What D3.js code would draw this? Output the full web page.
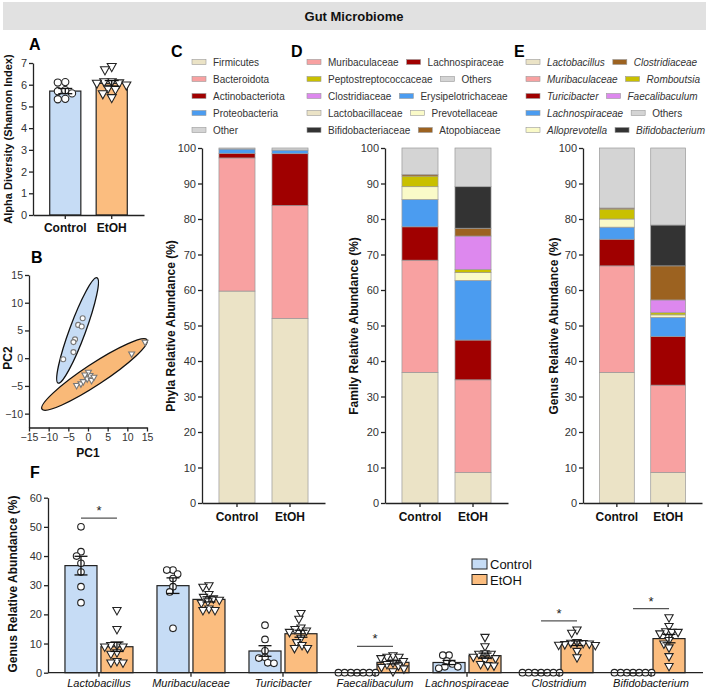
<!DOCTYPE html>
<html>
<head>
<meta charset="utf-8">
<script src="https://cdn.jsdelivr.net/npm/d3@7"></script>
<style>
body { margin: 0; background: #fff; }
svg text { font-family: "Liberation Sans", Arial, Helvetica, sans-serif; }
</style>
</head>
<body>
<div id="chart"></div>
<script>

// ---- data ----
const groups = ["Control", "EtOH"];

// A: Shannon index per animal
const shannonControl = [6.12, 6.1, 5.75, 5.7, 5.6, 5.35, 5.33];
const shannonEtOH = [6.85, 6.7, 6.15, 6.15, 6.1, 6.08, 6.0, 5.85, 5.8, 5.6, 5.42];

// B: PCA scores [PC1, PC2]
const pcaControl = [[-1.35, 7.2], [-2.5, 6.0], [-1.6, 5.7], [-3.3, 3.4], [-3.7, 2.9], [-3.7, 1.1], [-6.3, -0.2]];
const pcaEtOH = [[14.5, 2.9], [11.1, 0.8], [-2.9, -4.9], [-1.8, -4.6], [-1.2, -4.2], [-0.2, -3.7],
                 [0.5, -3.1], [0.9, -4.0], [0.1, -2.5], [1.5, -3.4], [-0.8, -3.0]];
// ellipse major-axis end points [PC1, PC2]
const ellipseControl = [[-7.6, -4.5], [2.3, 14.5]];
const ellipseEtOH = [[-11.7, -9.2], [15.0, 3.3]];

// C: phyla (%)
const phylaKeys = ["Firmicutes", "Bacteroidota", "Actinobacteriota", "Proteobacteria", "Other"];
const phylaControl = [59.7, 37.5, 1.3, 1.2, 0.3];
const phylaEtOH = [52.0, 31.8, 14.6, 1.0, 0.6];
const phylaLegend = [["Firmicutes"], ["Bacteroidota"], ["Actinobacteriota"], ["Proteobacteria"], ["Other"]];

// D: families (%)
const familyKeys = ["Lactobacillaceae", "Muribaculaceae", "Lachnospiraceae", "Erysipelotrichaceae", "Prevotellaceae",
                    "Peptostreptococcaceae", "Clostridiaceae", "Atopobiaceae", "Bifidobacteriaceae", "Others"];
const familyControl = [36.8, 31.6, 9.4, 7.7, 3.6, 3.0, 0.0, 0.4, 0.0, 7.5];
const familyEtOH = [8.6, 26.1, 11.2, 16.8, 2.2, 0.9, 9.4, 2.2, 11.7, 10.9];
const familyLegend = [["Muribaculaceae", "Lachnospiraceae"], ["Peptostreptococcaceae", "Others"],
                      ["Clostridiaceae", "Erysipelotrichaceae"], ["Lactobacillaceae", "Prevotellaceae"],
                      ["Bifidobacteriaceae", "Atopobiaceae"]];

// E: genera (%)
const genusKeys = ["Lactobacillus", "Muribaculaceae", "Turicibacter", "Lachnospiraceae", "Alloprevotella",
                   "Romboutsia", "Faecalibaculum", "Clostridiaceae", "Bifidobacterium", "Others"];
const genusControl = [36.8, 30.0, 7.5, 3.4, 2.3, 2.8, 0.0, 0.3, 0.0, 16.9];
const genusEtOH = [8.6, 24.6, 13.7, 5.4, 0.7, 0.6, 3.6, 9.6, 11.5, 21.7];
const genusLegend = [["Lactobacillus", "Clostridiaceae"], ["Muribaculaceae", "Romboutsia"],
                     ["Turicibacter", "Faecalibaculum"], ["Lachnospiraceae", "Others"],
                     ["Alloprevotella", "Bifidobacterium"]];

// F: genus relative abundance per animal (%)
const genera = ["Lactobacillus", "Muribaculaceae", "Turicibacter", "Faecalibaculum", "Lachnospiraceae", "Clostridium", "Bifidobacterium"];
const generaControl = [
    [50, 41.5, 40, 37.5, 34.5, 29.5, 24],
    [35.2, 35.2, 33.8, 32.3, 29.5, 27.7, 15.2],
    [16.3, 11.4, 7.5, 5.3, 5.0, 3.4, 3.2],
    [0, 0, 0, 0, 0, 0, 0],
    [6, 6, 4, 3, 2, 2, 1.5],
    [0, 0, 0, 0, 0, 0, 0],
    [0, 0, 0, 0, 0, 0, 0]
];
const generaEtOH = [
    [21.5, 15, 9.5, 9.5, 9, 9, 7, 6.5, 4, 3.5, 3.5],
    [30, 29.5, 27, 26, 25.5, 25, 24.5, 24, 22, 21.5, 21.5],
    [20.5, 18.5, 15.5, 15, 14.5, 14, 12, 10.5, 9.5, 8.5, 8.5],
    [6, 5.5, 5.5, 5, 4, 3.5, 3, 2.5, 2, 1.5, 0.5],
    [12.3, 9.1, 6.7, 6.5, 6.5, 5.5, 5, 4.5, 3, 2.6, 2.5],
    [14.8, 13.7, 10.5, 10.3, 10.2, 10, 9.8, 9.6, 9.5, 7.5, 5.3],
    [19, 16, 14.2, 14, 14, 13.5, 11.2, 10, 8.7, 5.7, 2.3]
];
const significant = ["Lactobacillus", "Faecalibaculum", "Clostridium", "Bifidobacterium"];

// ---- styles ----
const groupFill = { Control: "#c6dcf5", EtOH: "#fbbd7f" };
const stackColors = ["#ebe3c6", "#f8a1a1", "#a00000", "#4b9cf0", "#fafac8", "#c9c000", "#dd88ee", "#9c6220", "#333333", "#d4d4d4"];
const phylaColors = ["#ebe3c6", "#f8a1a1", "#a00000", "#4b9cf0", "#d4d4d4"];

const svg = d3.select("#chart").append("svg").attr("width", 709).attr("height", 693);

// ---- helpers ----
function styleAxis(g, size, color, weight) {
    g.select(".domain").attr("stroke", "#222").attr("stroke-width", 1.3);
    g.selectAll(".tick line").attr("stroke", "#222").attr("stroke-width", 1.3);
    g.selectAll(".tick text").attr("fill", color || "#333").attr("font-size", size)
        .attr("font-weight", weight || "normal");
}

function panelLetter(x, y, t) {
    svg.append("text").attr("x", x).attr("y", y).attr("font-size", 16).attr("font-weight", "bold").text(t);
}

function yTitle(x, y, t, size) {
    svg.append("text").attr("transform", "translate(" + x + "," + y + ") rotate(-90)")
        .attr("text-anchor", "middle").attr("font-size", size).attr("font-weight", "bold").attr("fill", "#111").text(t);
}

function mean(a) { return d3.mean(a); }
function sem(a) { return d3.deviation(a) / Math.sqrt(a.length); }

// horizontal spread of points so they do not overlap (beeswarm)
function swarm(values, yScale, cx, minDist) {
    let placed = [];
    let order = values.map((v, i) => i).sort((a, b) => values[b] - values[a]);
    order.forEach(i => {
        let y = yScale(values[i]);
        let blocked = [];
        placed.forEach(p => {
            let dy = Math.abs(p.y - y);
            if (dy < minDist) {
                let dx = Math.sqrt(minDist * minDist - dy * dy);
                blocked.push([p.dx - dx, p.dx + dx]);
            }
        });
        let cands = [0];
        blocked.forEach(b => cands.push(b[0], b[1]));
        cands.sort((a, b) => Math.abs(a) - Math.abs(b));
        let dx = cands.find(c => blocked.every(b => c <= b[0] + 1e-6 || c >= b[1] - 1e-6));
        placed.push({ dx: dx, y: y });
    });
    return placed.map(p => ({ x: cx + p.dx, y: p.y }));
}

function triPath(w) {
    let h = w * 0.9;
    return "M" + (-w / 2) + "," + (-h / 3) + "L" + (w / 2) + "," + (-h / 3) + "L0," + (2 * h / 3) + "Z";
}

function drawPoints(g, pts, group, r, stroke) {
    if (group === "Control") {
        g.selectAll(null).data(pts).enter().append("circle")
            .attr("cx", d => d.x).attr("cy", d => d.y).attr("r", r)
            .attr("fill", "#fff").attr("stroke", stroke).attr("stroke-width", 1.1);
    } else {
        g.selectAll(null).data(pts).enter().append("path")
            .attr("d", triPath(r * 2.5)).attr("transform", d => "translate(" + d.x + "," + d.y + ")")
            .attr("fill", "#fff").attr("stroke", stroke).attr("stroke-width", 1.1);
    }
}

function errorBar(g, cx, yScale, vals, cap) {
    let m = mean(vals), s = sem(vals);
    let y0 = yScale(m - s), y1 = yScale(m + s);
    g.append("line").attr("x1", cx).attr("x2", cx).attr("y1", y0).attr("y2", y1).attr("stroke", "#111").attr("stroke-width", 1.3);
    [y0, y1].forEach(y => g.append("line").attr("x1", cx - cap / 2).attr("x2", cx + cap / 2)
        .attr("y1", y).attr("y2", y).attr("stroke", "#111").attr("stroke-width", 1.3));
}

// ---- title ----
svg.append("rect").attr("x", 3).attr("y", 2).attr("width", 703).attr("height", 28).attr("fill", "#e1e1e1");
svg.append("text").attr("x", 354).attr("y", 21).attr("text-anchor", "middle")
    .attr("font-size", 13).attr("font-weight", "bold").attr("fill", "#111").text("Gut Microbiome");

// ---- A ----
function drawPanelA() {
    let yA = d3.scaleLinear().domain([0, 7]).range([215, 63]);
    let xA = d3.scaleBand().domain(groups).range([33, 144]).paddingInner(0.33).paddingOuter(0.36);
    let g = svg.append("g");
    let sets = { Control: shannonControl, EtOH: shannonEtOH };

    groups.forEach(k => {
        g.append("rect").attr("x", xA(k)).attr("width", xA.bandwidth())
            .attr("y", yA(mean(sets[k]))).attr("height", yA(0) - yA(mean(sets[k])))
            .attr("fill", groupFill[k]).attr("stroke", "#222").attr("stroke-width", 1.2);
    });
    groups.forEach(k => {
        let pts = swarm(sets[k], yA, xA(k) + xA.bandwidth() / 2, 7.5);
        drawPoints(g, pts, k, 3.6, "#222");
        errorBar(g, xA(k) + xA.bandwidth() / 2, yA, sets[k], 14);
    });

    let ax = svg.append("g").attr("transform", "translate(33,0)")
        .call(d3.axisLeft(yA).ticks(7).tickSize(4).tickSizeOuter(0).tickPadding(2));
    styleAxis(ax, 11);
    let bx = svg.append("g").attr("transform", "translate(0,215)")
        .call(d3.axisBottom(xA).tickSize(4).tickSizeOuter(0).tickPadding(4));
    styleAxis(bx, 12, "#111", "bold");

    panelLetter(29, 50, "A");
    yTitle(12, 139, "Alpha Diversity (Shannon Index)", 11);
}

// ---- B ----
function drawPanelB() {
    let xB = d3.scaleLinear().domain([-15, 15]).range([29, 147]);
    let yB = d3.scaleLinear().domain([-12.5, 15]).range([427.5, 275]);
    let g = svg.append("g");

    function ellipse(ends, minor, fill) {
        let p1 = [xB(ends[0][0]), yB(ends[0][1])], p2 = [xB(ends[1][0]), yB(ends[1][1])];
        let cx = (p1[0] + p2[0]) / 2, cy = (p1[1] + p2[1]) / 2;
        let a = Math.hypot(p2[0] - p1[0], p2[1] - p1[1]) / 2;
        let ang = Math.atan2(p2[1] - p1[1], p2[0] - p1[0]) * 180 / Math.PI;
        g.append("ellipse").attr("cx", 0).attr("cy", 0).attr("rx", a).attr("ry", minor)
            .attr("transform", "translate(" + cx + "," + cy + ") rotate(" + ang + ")")
            .attr("fill", fill).attr("stroke", "#111").attr("stroke-width", 1.3);
    }
    ellipse(ellipseEtOH, 10.5, "#f9b978");
    ellipse(ellipseControl, 8, "#c6dcf5");

    drawPoints(g, pcaControl.map(d => ({ x: xB(d[0]), y: yB(d[1]) })), "Control", 2.5, "#777");
    drawPoints(g, pcaEtOH.map(d => ({ x: xB(d[0]), y: yB(d[1]) })), "EtOH", 2.4, "#777");

    let ax = svg.append("g").attr("transform", "translate(29,0)")
        .call(d3.axisLeft(yB).tickValues([-10, -5, 0, 5, 10, 15]).tickSize(4).tickSizeOuter(0).tickPadding(2));
    styleAxis(ax, 10.5);
    let bx = svg.append("g").attr("transform", "translate(0,427.5)")
        .call(d3.axisBottom(xB).tickValues([-15, -10, -5, 0, 5, 10, 15]).tickSize(4).tickSizeOuter(0).tickPadding(2));
    styleAxis(bx, 10.5);

    panelLetter(31, 263, "B");
    svg.append("text").attr("x", 88).attr("y", 457).attr("text-anchor", "middle")
        .attr("font-size", 12).attr("font-weight", "bold").attr("fill", "#111").text("PC1");
    yTitle(12, 358, "PC2", 12);
}

// ---- stacked panels C, D, E ----
function drawStackPanel(o) {
    let yS = d3.scaleLinear().domain([0, 100]).range([503, 148]);
    let xS = d3.scaleBand().domain(groups).range([o.x0, o.x1]).paddingInner(0.32).paddingOuter(0.32);
    let rows = groups.map((k, gi) => {
        let r = { group: k };
        o.keys.forEach((key, i) => { r[key] = (gi === 0 ? o.control : o.etoh)[i]; });
        return r;
    });
    let series = d3.stack().keys(o.keys)(rows);
    let color = d3.scaleOrdinal().domain(o.keys).range(o.colors);
    let g = svg.append("g");

    g.selectAll("g.layer").data(series).enter().append("g")
        .attr("fill", d => color(d.key))
        .selectAll("rect").data(d => d).enter().append("rect")
        .attr("x", d => xS(d.data.group)).attr("width", xS.bandwidth())
        .attr("y", d => yS(d[1])).attr("height", d => yS(d[0]) - yS(d[1]))
        .attr("stroke", "#999").attr("stroke-width", 0.7);

    let ax = svg.append("g").attr("transform", "translate(" + o.x0 + ",0)")
        .call(d3.axisLeft(yS).ticks(10).tickSize(4).tickSizeOuter(0).tickPadding(2));
    styleAxis(ax, 11);
    let bx = svg.append("g").attr("transform", "translate(0,503)")
        .call(d3.axisBottom(xS).tickSize(4).tickSizeOuter(0).tickPadding(5));
    styleAxis(bx, 12, "#111", "bold");

    yTitle(o.titleX, 326, o.title, 12);
    panelLetter(o.letterX, 57, o.letter);

    // legend rows, items placed one after another
    o.legend.forEach((row, ri) => {
        let x = o.legendX;
        let y = 62 + ri * 17;
        row.forEach(name => {
            g.append("rect").attr("x", x).attr("y", y - 2.5).attr("width", 14).attr("height", 5)
                .attr("fill", color(name)).attr("stroke", "#999").attr("stroke-width", 0.6);
            let t = g.append("text").attr("x", x + 21).attr("y", y + 3.5).attr("font-size", 10)
                .attr("fill", "#333").attr("font-style", o.italic && name !== "Others" ? "italic" : "normal").text(name);
            x = x + 21 + t.node().getComputedTextLength() + 8;
        });
    });
}

// ---- F ----
function drawPanelF() {
    let yF = d3.scaleLinear().domain([0, 60]).range([672.7, 497.7]);
    let xF = d3.scaleBand().domain(genera).range([48, 702]).paddingInner(0).paddingOuter(0.054);
    let xIn = d3.scaleBand().domain(groups).range([12, 80]).paddingInner(0.11);
    let g = svg.append("g");

    genera.forEach((gen, gi) => {
        let sets = { Control: generaControl[gi], EtOH: generaEtOH[gi] };
        groups.forEach(k => {
            let m = mean(sets[k]);
            g.append("rect").attr("x", xF(gen) + xIn(k)).attr("width", xIn.bandwidth())
                .attr("y", yF(m)).attr("height", yF(0) - yF(m))
                .attr("fill", groupFill[k]).attr("stroke", "#222").attr("stroke-width", 1.2);
        });
        groups.forEach(k => {
            let cx = xF(gen) + xIn(k) + xIn.bandwidth() / 2;
            drawPoints(g, swarm(sets[k], yF, cx, 6.2), k, 3.3, "#222");
            errorBar(g, cx, yF, sets[k], 13);
        });
        if (significant.includes(gen)) {
            let top = d3.max(sets.Control.concat(sets.EtOH)) + 3;
            let c = xF(gen) + xF.bandwidth() / 2;
            g.append("line").attr("x1", c - 18).attr("x2", c + 18).attr("y1", yF(top)).attr("y2", yF(top))
                .attr("stroke", "#555").attr("stroke-width", 1.2);
            g.append("text").attr("x", c).attr("y", yF(top) - 3).attr("text-anchor", "middle")
                .attr("font-size", 13).attr("fill", "#222").text("*");
        }
    });

    let ax = svg.append("g").attr("transform", "translate(48,0)")
        .call(d3.axisLeft(yF).ticks(6).tickSize(4).tickSizeOuter(0).tickPadding(2));
    styleAxis(ax, 11);
    let bx = svg.append("g").attr("transform", "translate(0,672.7)")
        .call(d3.axisBottom(xF).tickSize(4).tickSizeOuter(0).tickPadding(3));
    styleAxis(bx, 11, "#111");
    bx.selectAll(".tick text").attr("font-style", "italic");
    bx.select(".domain").attr("d", "M48,0H703");

    panelLetter(30, 478, "F");
    yTitle(17, 584, "Genus Relative Abundance (%)", 12);

    // legend
    groups.forEach((k, i) => {
        let y = 564 + i * 15.5;
        svg.append("rect").attr("x", 472).attr("y", y - 5).attr("width", 15).attr("height", 10)
            .attr("fill", groupFill[k]).attr("stroke", "#222").attr("stroke-width", 1);
        svg.append("text").attr("x", 490).attr("y", y + 5).attr("font-size", 13).attr("fill", "#111").text(k);
    });
}

drawPanelA();
drawPanelB();
drawStackPanel({ keys: phylaKeys, colors: phylaColors, control: phylaControl, etoh: phylaEtOH,
    x0: 202, x1: 325, title: "Phyla Relative Abundance (%)", titleX: 175, letter: "C", letterX: 171,
    legend: phylaLegend, legendX: 192, italic: false });
drawStackPanel({ keys: familyKeys, colors: stackColors, control: familyControl, etoh: familyEtOH,
    x0: 385, x1: 508, title: "Family Relative Abundance (%)", titleX: 358, letter: "D", letterX: 291,
    legend: familyLegend, legendX: 307, italic: false });
drawStackPanel({ keys: genusKeys, colors: stackColors, control: genusControl, etoh: genusEtOH,
    x0: 583, x1: 702, title: "Genus Relative Abundance (%)", titleX: 558, letter: "E", letterX: 514,
    legend: genusLegend, legendX: 526, italic: true });
drawPanelF();

</script>
</body>
</html>
